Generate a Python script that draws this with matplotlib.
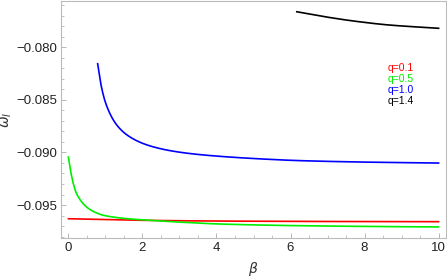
import matplotlib
matplotlib.use("Agg")
import matplotlib.pyplot as plt
from matplotlib.ticker import MultipleLocator, FuncFormatter
import numpy as np

plt.rcParams["font.family"] = ["Liberation Sans", "DejaVu Sans"]

# q = 0.1 (red)
red_x = [0.0, 1.0, 2.0, 4.0, 6.0, 8.0, 10.0]
red_y = [-0.09630, -0.09638, -0.09645, -0.09652, -0.09655, -0.09657, -0.09658]
# q = 0.5 (green)
green_x = [0.0, 0.09, 0.22, 0.49, 0.7, 0.94, 1.25, 1.57, 2.29, 3.0, 4.08, 6.0, 8.0, 10.0]
green_y = [-0.09044, -0.09233, -0.09391, -0.09518, -0.09565, -0.09597, -0.09616,
           -0.09629, -0.09647, -0.09662, -0.09680, -0.09695, -0.09703, -0.09708]
# q = 1.0 (blue)
blue_x = [0.79, 0.9, 1.03, 1.25, 1.4, 1.57, 1.8, 2.02, 2.3, 2.74, 3.36, 4.08, 5.0, 6.24, 8.0, 10.0]
blue_y = [-0.08158, -0.08392, -0.08555, -0.08712, -0.08778, -0.08831, -0.08881,
          -0.08916, -0.08948, -0.08983, -0.09014, -0.09037, -0.09058, -0.09078,
          -0.09092, -0.09101]
# q = 1.4 (black)
black_x = [6.17, 6.87, 7.77, 8.67, 10.0]
black_y = [-0.07664, -0.07708, -0.07755, -0.07790, -0.07821]

labels = ["q=0.1", "q=0.5", "q=1.0", "q=1.4"]
colors = ["#ff0000", "#00ee00", "#0000ff", "#000000"]

def smooth(x, y, n=400):
    x = np.asarray(x); y = np.asarray(y)
    xs = np.linspace(x[0], x[-1], n)
    h = np.diff(x); d = np.diff(y) / h
    m = np.zeros_like(y)
    m[0] = d[0]; m[-1] = d[-1]
    for i in range(1, len(x) - 1):
        if d[i-1] * d[i] <= 0:
            m[i] = 0
        else:
            w1 = 2*h[i] + h[i-1]; w2 = h[i] + 2*h[i-1]
            m[i] = (w1 + w2) / (w1/d[i-1] + w2/d[i])
    ys = np.empty_like(xs)
    idx = np.clip(np.searchsorted(x, xs) - 1, 0, len(x) - 2)
    for k, (xv, i) in enumerate(zip(xs, idx)):
        t = (xv - x[i]) / h[i]
        h00 = 2*t**3 - 3*t**2 + 1; h10 = t**3 - 2*t**2 + t
        h01 = -2*t**3 + 3*t**2; h11 = t**3 - t**2
        ys[k] = h00*y[i] + h10*h[i]*m[i] + h01*y[i+1] + h11*h[i]*m[i+1]
    return xs, ys

fig = plt.figure(figsize=(4.47, 2.78), dpi=100)
ax = fig.add_axes([61/447, 1 - 238/278, 385/447, 237.5/278])

for (x, y), c in zip([(red_x, red_y), (green_x, green_y), (blue_x, blue_y), (black_x, black_y)], colors):
    xs, ys = smooth(x, y)
    ax.plot(xs, ys, color=c, lw=1.2)

ax.set_xlim(-0.2, 10.2)
ax.set_ylim(-0.09813, -0.07557)

ax.xaxis.set_major_locator(MultipleLocator(2))
ax.xaxis.set_minor_locator(MultipleLocator(0.5))
ax.yaxis.set_major_locator(MultipleLocator(0.005))
ax.yaxis.set_minor_locator(MultipleLocator(0.001))
ax.yaxis.set_major_formatter(FuncFormatter(lambda v, p: ("%.3f" % v).replace("-", "\u2212")))

for s in ax.spines.values():
    s.set_color("#bbbbbb")
    s.set_linewidth(0.8)

ax.tick_params(which="both", direction="in", color="#aaaaaa", labelsize=9.5,
               labelcolor="#222222", top=False, right=False)
ax.tick_params(which="major", length=3.5, width=0.6, pad=3)
ax.tick_params(which="minor", length=2, width=0.5)

ax.set_xlabel(r"$\beta$", fontsize=10, labelpad=4, color="#333333")
fig.text(7/447, 1 - 120/278, r"$\omega_I$", fontsize=10, rotation=90,
         ha="center", va="center", color="#333333")

ys_txt = [68, 79, 90, 101]
for lab, c, yp in zip(labels, colors, ys_txt):
    fig.text(388/447, 1 - yp/278, lab, color=c, fontsize=7.5, va="center", ha="left")

fig.savefig("out.png", dpi=100)
